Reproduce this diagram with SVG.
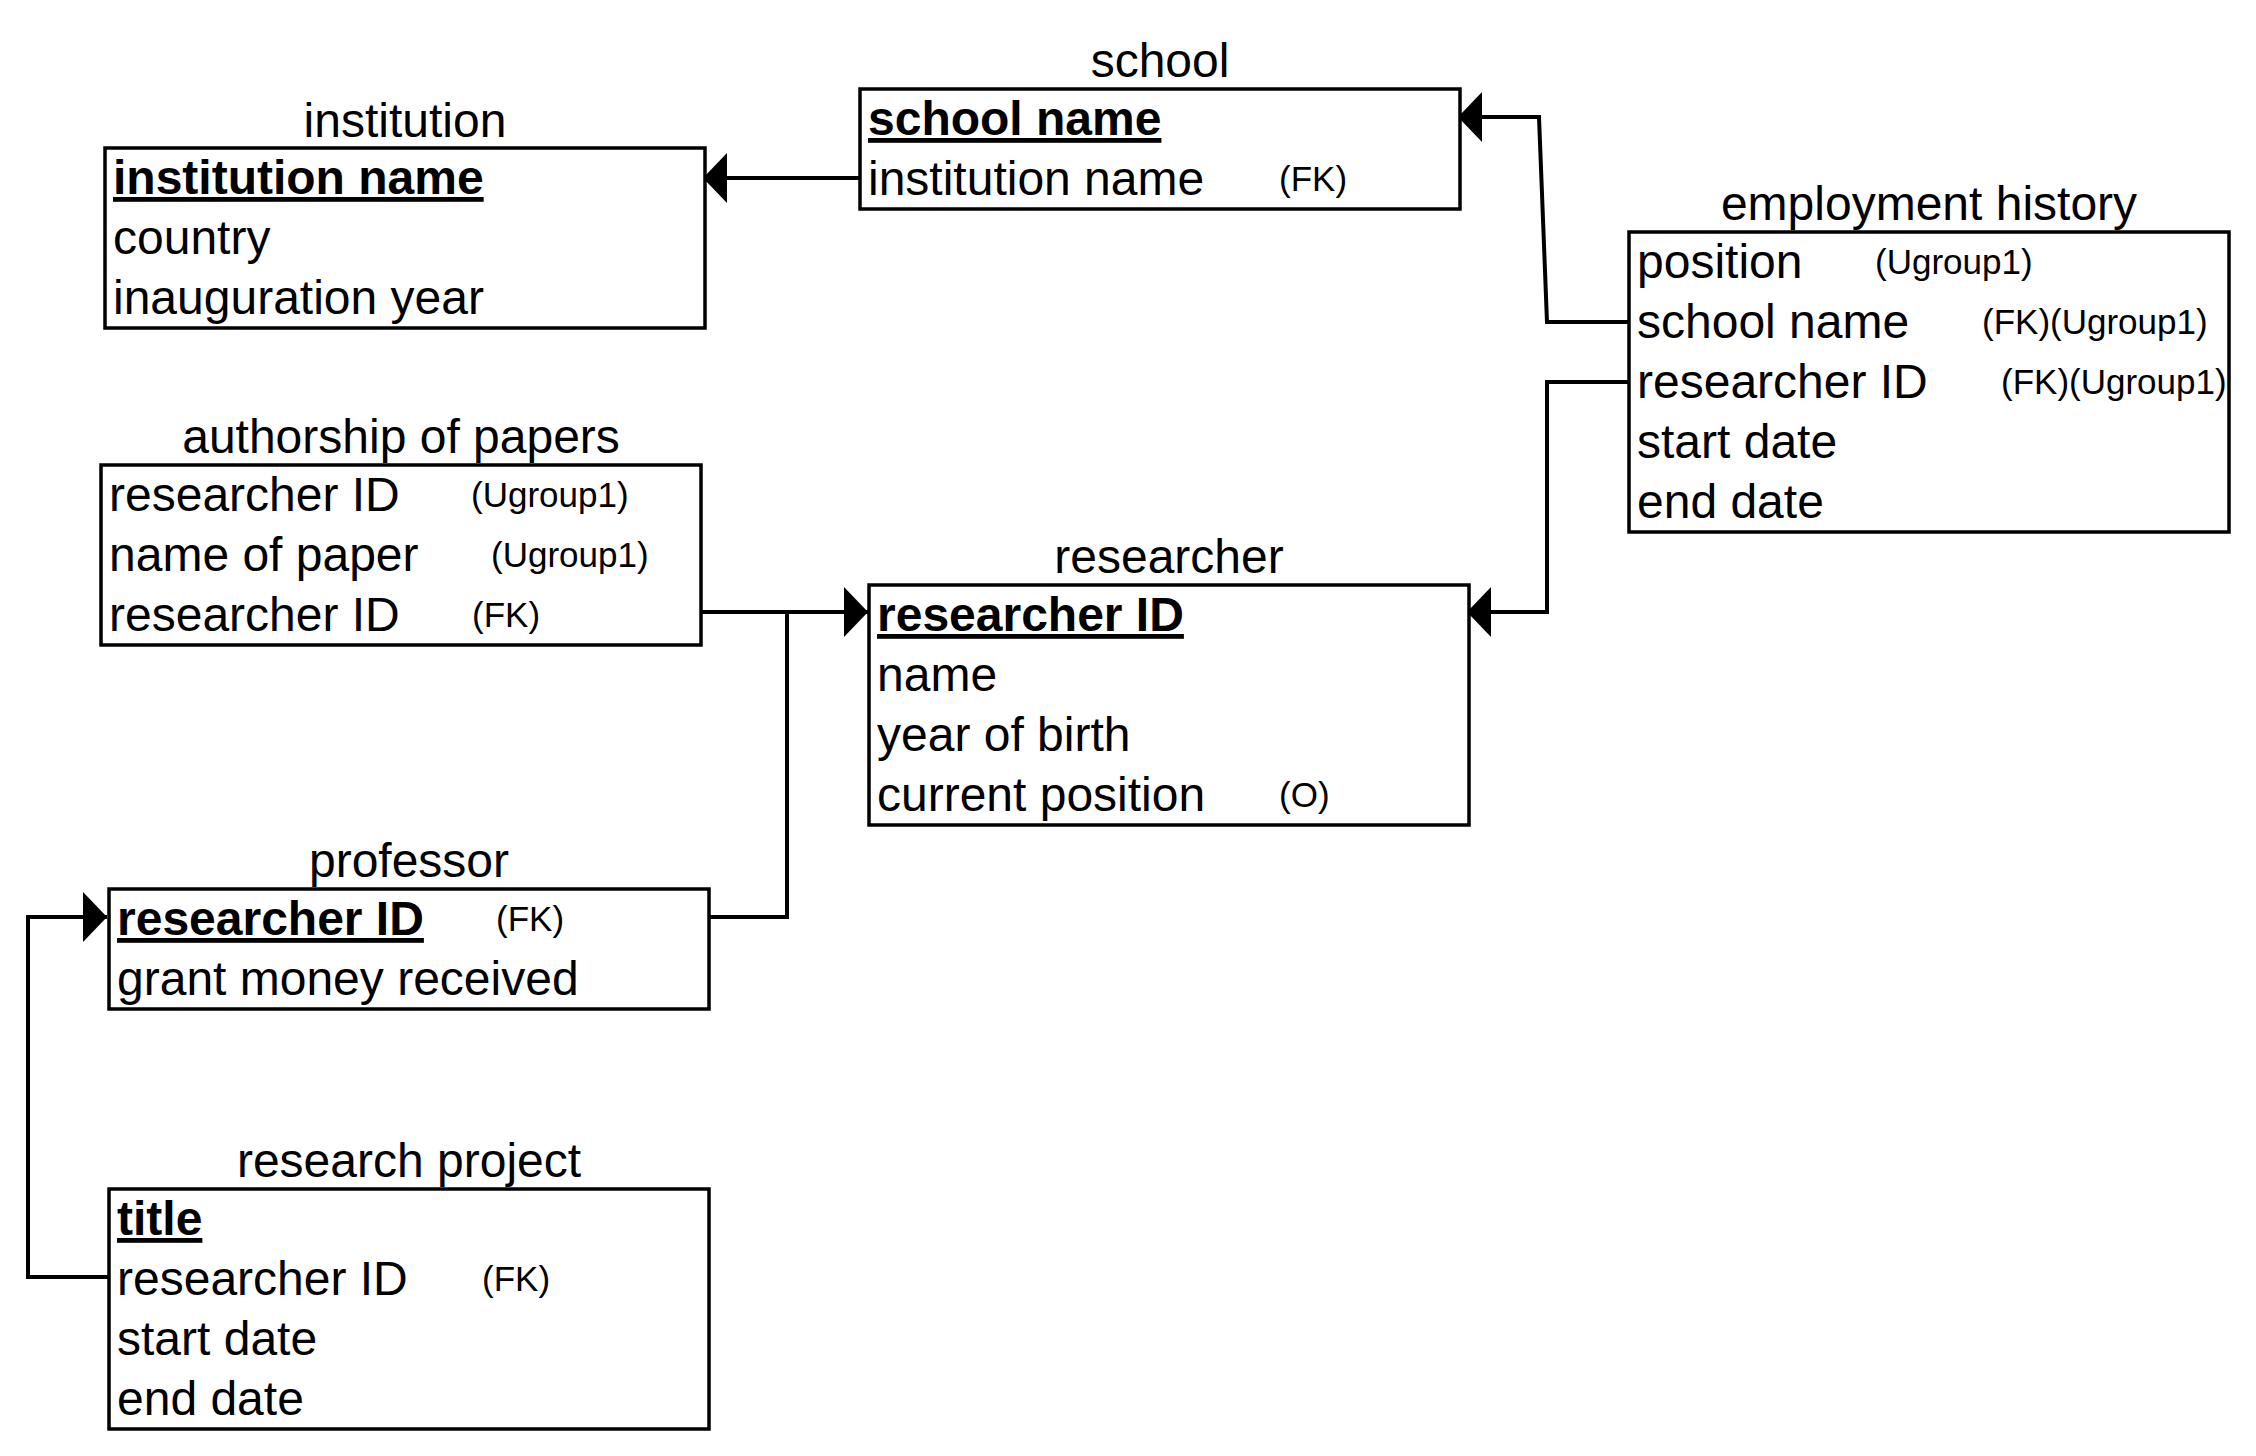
<svg xmlns="http://www.w3.org/2000/svg" width="2256" height="1456" viewBox="0 0 2256 1456">
<style>
  .box { fill: #ffffff; stroke: #000000; stroke-width: 3.5; }
  .title { font-family: "Liberation Sans", Arial, Helvetica, sans-serif; font-size: 48px; fill: #000; text-anchor: middle; }
  .row { font-family: "Liberation Sans", Arial, Helvetica, sans-serif; font-size: 48px; fill: #000; }
  .pk { font-weight: bold; text-decoration: underline; }
  .tag { font-family: "Liberation Sans", Arial, Helvetica, sans-serif; font-size: 35px; fill: #000; }
  .conn { fill: none; stroke: #000; stroke-width: 4; marker-end: url(#arrow); }
  .plain { fill: none; stroke: #000; stroke-width: 4; }
</style>
<defs>
  <marker id="arrow" markerUnits="userSpaceOnUse" markerWidth="26" markerHeight="52" viewBox="0 0 26 52" refX="25" refY="26" orient="auto">
    <path d="M1,1 L25,26 L1,51 Z" fill="#000"/>
  </marker>
</defs>
<rect x="0" y="0" width="2256" height="1456" fill="#ffffff"/>

<g id="connectors">
  <path class="conn" d="M860,178 H703"/>
  <path class="conn" d="M1629,322 H1547 L1539,117 H1458"/>
  <path class="conn" d="M1629,382 H1547 V612 H1467"/>
  <path class="conn" d="M701,612 H868"/>
  <path class="plain" d="M709,917 H787 V612"/>
  <path class="conn" d="M109,1277 H28 V917 H107"/>
</g>

<g id="institution">
  <text class="title" x="405" y="137">institution</text>
  <rect class="box" x="105" y="148" width="600" height="180"/>
  <text class="row pk" x="113" y="194">institution name</text>
  <text class="row" x="113" y="254">country</text>
  <text class="row" x="113" y="314">inauguration year</text>
</g>

<g id="school">
  <text class="title" x="1160" y="77">school</text>
  <rect class="box" x="860" y="89" width="600" height="120"/>
  <text class="row pk" x="868" y="135">school name</text>
  <text class="row" x="868" y="195">institution name</text>
  <text class="tag" x="1279" y="191">(FK)</text>
</g>

<g id="employment-history">
  <text class="title" x="1929" y="220">employment history</text>
  <rect class="box" x="1629" y="232" width="600" height="300"/>
  <text class="row" x="1637" y="278">position</text>
  <text class="tag" x="1875" y="274">(Ugroup1)</text>
  <text class="row" x="1637" y="338">school name</text>
  <text class="tag" x="1982" y="334">(FK)(Ugroup1)</text>
  <text class="row" x="1637" y="398">researcher ID</text>
  <text class="tag" x="2001" y="394">(FK)(Ugroup1)</text>
  <text class="row" x="1637" y="458">start date</text>
  <text class="row" x="1637" y="518">end date</text>
</g>

<g id="authorship-of-papers">
  <text class="title" x="401" y="453">authorship of papers</text>
  <rect class="box" x="101" y="465" width="600" height="180"/>
  <text class="row" x="109" y="511">researcher ID</text>
  <text class="tag" x="471" y="507">(Ugroup1)</text>
  <text class="row" x="109" y="571">name of paper</text>
  <text class="tag" x="491" y="567">(Ugroup1)</text>
  <text class="row" x="109" y="631">researcher ID</text>
  <text class="tag" x="472" y="627">(FK)</text>
</g>

<g id="researcher">
  <text class="title" x="1169" y="573">researcher</text>
  <rect class="box" x="869" y="585" width="600" height="240"/>
  <text class="row pk" x="877" y="631">researcher ID</text>
  <text class="row" x="877" y="691">name</text>
  <text class="row" x="877" y="751">year of birth</text>
  <text class="row" x="877" y="811">current position</text>
  <text class="tag" x="1279" y="807">(O)</text>
</g>

<g id="professor">
  <text class="title" x="409" y="877">professor</text>
  <rect class="box" x="109" y="889" width="600" height="120"/>
  <text class="row pk" x="117" y="935">researcher ID</text>
  <text class="tag" x="496" y="931">(FK)</text>
  <text class="row" x="117" y="995">grant money received</text>
</g>

<g id="research-project">
  <text class="title" x="409" y="1177">research project</text>
  <rect class="box" x="109" y="1189" width="600" height="240"/>
  <text class="row pk" x="117" y="1235">title</text>
  <text class="row" x="117" y="1295">researcher ID</text>
  <text class="tag" x="482" y="1291">(FK)</text>
  <text class="row" x="117" y="1355">start date</text>
  <text class="row" x="117" y="1415">end date</text>
</g>
</svg>
